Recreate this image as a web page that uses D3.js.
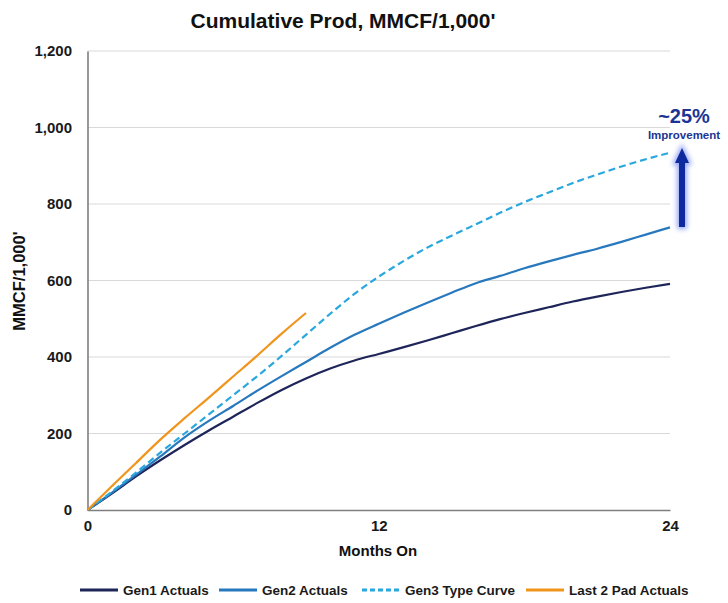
<!DOCTYPE html>
<html><head><meta charset="utf-8">
<script src="https://cdn.jsdelivr.net/npm/d3@7"></script>
<style>
body{margin:0;background:#fff;}
svg{display:block;font-family:"Liberation Sans",Arial,sans-serif;}
</style></head>
<body>
<script>
const months = d3.range(0, 25);
const gen1 = [0,43,88,130,170,208,244,280,314,344,370,391,408,425,443,462,481,499,515,530,545,558,570,581,591];
const gen2 = [0,45,92,140,190,233,272,312,350,387,424,458,487,515,542,568,593,612,632,650,667,683,701,720,739];
const gen3 = [0,48,98,150,200,250,300,350,403,458,513,565,610,650,686,717,747,777,805,830,855,877,898,917,934];
const lastPad = [0,62,123,184,240,294,349,404,461,515];
const seriesNames = ["Gen1 Actuals","Gen2 Actuals","Gen3 Type Curve","Last 2 Pad Actuals"];
const yTicks = [0,200,400,600,800,1000,1200];
const xTicks = [0,12,24];

const W = 728, H = 603;
const svg = d3.select("body").append("svg").attr("width", W).attr("height", H);
const x = d3.scaleLinear().domain([0,24]).range([87.5,670]);
const y = d3.scaleLinear().domain([0,1200]).range([510,51]);

// gridlines
svg.append("g").selectAll("line").data(yTicks.filter(d=>d>0)).join("line")
  .attr("x1", x(0)).attr("x2", x(24)).attr("y1", d=>y(d)).attr("y2", d=>y(d))
  .attr("stroke", "#d9d9d9").attr("stroke-width", 1.2);

// axes
const yAxis = svg.append("g").attr("transform", `translate(${x(0)},0)`)
  .call(d3.axisLeft(y).tickValues(yTicks).tickFormat(d3.format(",")).tickSize(0).tickPadding(15.5));
const xAxis = svg.append("g").attr("transform", `translate(0,${y(0)})`)
  .call(d3.axisBottom(x).tickValues(xTicks).tickFormat(d3.format("d")).tickSize(0).tickPadding(10));
[yAxis, xAxis].forEach(a => {
  a.select(".domain").attr("stroke", "#7f7f7f").attr("stroke-width", 1.6);
  a.selectAll("text").attr("font-size", 15).attr("font-weight", "bold").attr("fill", "#1a1a1a")
    .attr("font-family", '"Liberation Sans",Arial,sans-serif');
});

// lines
const colors = ["#1e2559","#2878be","#2aa8de","#f0951c"];
const datasets = [gen1, gen2, gen3, lastPad];
const line = d3.line().x((d,i)=>x(months[i])).y(d=>y(d)).curve(d3.curveMonotoneX);
datasets.forEach((ds,k) => {
  svg.append("path").datum(ds).attr("d", line)
    .attr("fill","none").attr("stroke", colors[k]).attr("stroke-width", 2.2)
    .attr("stroke-dasharray", k===2 ? "7,4" : null);
});

// title
svg.append("text").attr("x", 343).attr("y", 28).attr("text-anchor","middle")
  .attr("font-size", 21).attr("font-weight","bold").attr("fill","#111").text("Cumulative Prod, MMCF/1,000'");
// axis titles
svg.append("text").attr("transform","translate(25,281) rotate(-90)").attr("text-anchor","middle")
  .attr("font-size", 16.5).attr("font-weight","bold").attr("fill","#111").text("MMCF/1,000'");
svg.append("text").attr("x", 378).attr("y", 556).attr("text-anchor","middle")
  .attr("font-size", 15).attr("font-weight","bold").attr("fill","#111").text("Months On");

// legend
const legX = [80, 219, 362, 526];
const lg = svg.append("g");
seriesNames.forEach((n,k) => {
  lg.append("line").attr("x1", legX[k]).attr("x2", legX[k]+38).attr("y1", 590).attr("y2", 590)
    .attr("stroke", colors[k]).attr("stroke-width", 2.8).attr("stroke-dasharray", k===2 ? "5,3" : null);
  lg.append("text").attr("x", legX[k]+43).attr("y", 595).attr("font-size", 13.5).attr("font-weight","bold")
    .attr("fill","#1a1a1a").text(n);
});

// annotation arrow with glow
const defs = svg.append("defs");
const f = defs.append("filter").attr("id","glow").attr("x","-100%").attr("y","-50%").attr("width","300%").attr("height","200%");
f.append("feGaussianBlur").attr("stdDeviation", 2.5);
const ax = 682, aTop = 148, aBot = 227;
const arrowPath = `M${ax-3},${aBot} L${ax-3},${aTop+15} L${ax-7},${aTop+15} L${ax},${aTop} L${ax+7},${aTop+15} L${ax+3},${aTop+15} L${ax+3},${aBot} Z`;
svg.append("path").attr("d", arrowPath).attr("fill","#7b8ff0").attr("stroke","#8fa0f5").attr("stroke-width",4).attr("filter","url(#glow)").attr("opacity",0.9);
svg.append("path").attr("d", arrowPath).attr("fill","#0f2a9e");
svg.append("text").attr("x", 684).attr("y", 123).attr("text-anchor","middle")
  .attr("font-size", 20).attr("font-weight","bold").attr("fill","#1c3494").text("~25%");
svg.append("text").attr("x", 684).attr("y", 139).attr("text-anchor","middle")
  .attr("font-size", 11.5).attr("font-weight","bold").attr("fill","#1c3494").text("Improvement");
</script>
</body></html>
